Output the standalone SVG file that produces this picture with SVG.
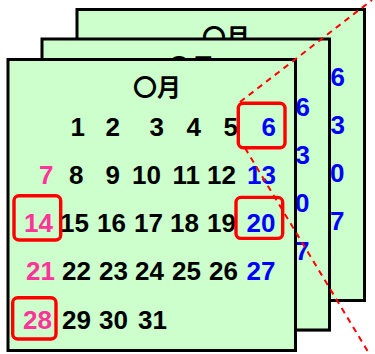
<svg xmlns="http://www.w3.org/2000/svg" width="375" height="354" viewBox="0 0 375 354">
<style>
.page{fill:#CCFFCC;stroke:#000;stroke-width:3}
.shadow{fill:#8a8a8a}
.title{font-family:"Noto Sans CJK JP","Liberation Sans",sans-serif;font-weight:bold;font-size:24px;fill:#000;text-anchor:middle}
.n{font-family:"Liberation Sans",Arial,sans-serif;font-weight:bold;font-size:26px;text-anchor:end;fill:#000}
.sun{fill:#FF3399}
.sat{fill:#0000FF}
.hl{fill:none;stroke:#FF0000;stroke-width:3.4}
.dash{fill:none;stroke:#FF0000;stroke-width:2;stroke-dasharray:6 5}
</style>
<g id="page-back" transform="translate(69,-50)">
  <rect class="shadow" x="9.5" y="61" width="287.5" height="291"/>
  <rect class="page" x="8" y="59.5" width="287.5" height="291"/>
  <text class="title" x="157" y="96">〇月</text>
  <text class="n sat" x="276" y="136">6</text>
  <text class="n sat" x="276" y="184">13</text>
  <text class="n sat" x="275.5" y="232">20</text>
  <text class="n sat" x="275.5" y="280">27</text>
</g>
<g id="page-middle" transform="translate(34,-20.5)">
  <rect class="shadow" x="9.5" y="61" width="287.5" height="291"/>
  <rect class="page" x="8" y="59.5" width="287.5" height="291"/>
  <text class="title" x="157" y="96">〇月</text>
  <text class="n sat" x="276" y="136">6</text>
  <text class="n sat" x="276" y="184">13</text>
  <text class="n sat" x="275.5" y="232">20</text>
  <text class="n sat" x="275.5" y="280">27</text>
</g>
<g id="page-front">
  <rect class="shadow" x="9.5" y="61" width="287.5" height="291"/>
  <rect class="page" x="8" y="59.5" width="287.5" height="291"/>
  <text class="title" x="157" y="96">〇月</text>
  <text class="n" x="85" y="136">1</text>
  <text class="n" x="120" y="136">2</text>
  <text class="n" x="164" y="136">3</text>
  <text class="n" x="201" y="136">4</text>
  <text class="n" x="238" y="136">5</text>
  <text class="n sat" x="276" y="136">6</text>
  <text class="n sun" x="53.5" y="184">7</text>
  <text class="n" x="83.5" y="184">8</text>
  <text class="n" x="120" y="184">9</text>
  <text class="n" x="161" y="184">10</text>
  <text class="n" x="200" y="184">11</text>
  <text class="n" x="236" y="184">12</text>
  <text class="n sat" x="276" y="184">13</text>
  <text class="n sun" x="53" y="232">14</text>
  <text class="n" x="89" y="232">15</text>
  <text class="n" x="126" y="232">16</text>
  <text class="n" x="163" y="232">17</text>
  <text class="n" x="199" y="232">18</text>
  <text class="n" x="236" y="232">19</text>
  <text class="n sat" x="275.5" y="232">20</text>
  <text class="n sun" x="55" y="280">21</text>
  <text class="n" x="91" y="280">22</text>
  <text class="n" x="128" y="280">23</text>
  <text class="n" x="164" y="280">24</text>
  <text class="n" x="201" y="280">25</text>
  <text class="n" x="238" y="280">26</text>
  <text class="n sat" x="275.5" y="280">27</text>
  <text class="n sun" x="52" y="328.5">28</text>
  <text class="n" x="91" y="328.5">29</text>
  <text class="n" x="128" y="328.5">30</text>
  <text class="n" x="167" y="328.5">31</text>
</g>
<g id="connectors">
  <line class="dash" x1="240" y1="102" x2="372" y2="0"/>
  <line class="dash" x1="245" y1="148" x2="370" y2="355"/>
</g>
<g id="highlights">
  <rect id="hl-6" class="hl" x="238.3" y="103.3" width="46.7" height="44.4" rx="5"/>
  <rect id="hl-14" class="hl" x="14" y="195.7" width="46.7" height="44.3" rx="5"/>
  <rect id="hl-20" class="hl" x="236" y="197.4" width="46.7" height="41" rx="5"/>
  <rect id="hl-28" class="hl" x="12.7" y="297.7" width="43.3" height="41.3" rx="5"/>
</g>
</svg>
